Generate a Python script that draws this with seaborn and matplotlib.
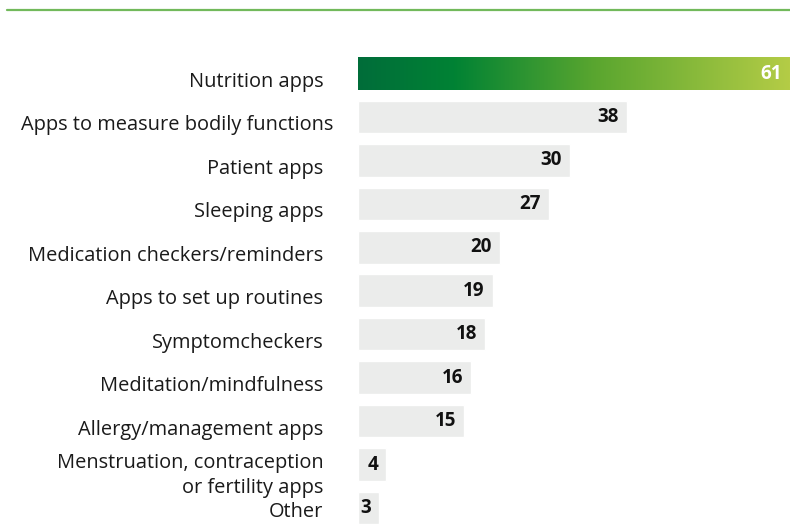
import numpy as np
import pandas as pd
import matplotlib
matplotlib.use("Agg")
import matplotlib.pyplot as plt
import matplotlib.transforms as mtransforms
from matplotlib.colors import LinearSegmentedColormap
from matplotlib.lines import Line2D
import seaborn as sns

# data
categories = [
    "Nutrition apps",
    "Apps to measure bodily functions",
    "Patient apps",
    "Sleeping apps",
    "Medication checkers/reminders",
    "Apps to set up routines",
    "Symptomcheckers",
    "Meditation/mindfulness",
    "Allergy/management apps",
    "Menstruation, contraception\nor fertility apps",
    "Other",
]
values = [61, 38, 30, 27, 20, 19, 18, 16, 15, 4, 3]

df = pd.DataFrame({"App": categories, "Share": values})

sns.set_theme(style="white")
plt.rcParams["font.family"] = ["Open Sans", "DejaVu Sans"]

fig = plt.figure(figsize=(7.9, 5.24), dpi=100)
W, H = 790, 524
# axes placed so the bars line up with the reference
top_px, bot_px = 51.8, 529.7
ax = fig.add_axes([358 / W, 1 - bot_px / H, 432 / W, (bot_px - top_px) / H])

sns.barplot(data=df, x="Share", y="App", color="#ebeceb", width=0.75,
            saturation=1, ax=ax)

# gradient fill on the first bar
grad_cmap = LinearSegmentedColormap.from_list(
    "grn", [(0, "#006d3a"), (0.22, "#008234"), (0.55, "#5aa62f"), (1, "#b4cc46")])
first = ax.patches[0]
first.set_facecolor("none")
im = ax.imshow(np.linspace(0, 1, 256).reshape(1, -1), cmap=grad_cmap,
               extent=[0, values[0], 0.375, -0.375], aspect="auto", zorder=3)
im.set_clip_path(first)

ax.set_xlim(0, values[0])
ax.set_ylim(len(categories) - 0.5, -0.5)

# value labels inside bar ends
for i, v in enumerate(values):
    ax.annotate(str(v), xy=(v, i), xytext=(-6, 0), textcoords="offset points",
                ha="right", va="center", fontsize=13.5, fontweight="bold",
                color="white" if i == 0 else "#111111", zorder=4)

ax.set_xlabel("")
ax.set_ylabel("")
ax.set_xticks([])
ax.tick_params(axis="y", length=0, pad=25, labelsize=14.4, labelcolor="#1a1a1a")
for lab in ax.get_yticklabels():
    txt = lab.get_text()
    dx, dy = 0, -0.06
    if txt.startswith("Apps to measure"):
        dx = 0.10
    elif txt == "Other":
        dy = -0.02
    lab.set_transform(lab.get_transform()
                      + mtransforms.ScaledTranslation(dx, dy, fig.dpi_scale_trans))
    lab.set_linespacing(1.35)
sns.despine(ax=ax, left=True, bottom=True, top=True, right=True)

# thin green rule at the top
fig.add_artist(Line2D([7 / W, 1], [1 - 10 / H, 1 - 10 / H], color="#72b95b", lw=1.6))

fig.savefig("out.png", dpi=100)
